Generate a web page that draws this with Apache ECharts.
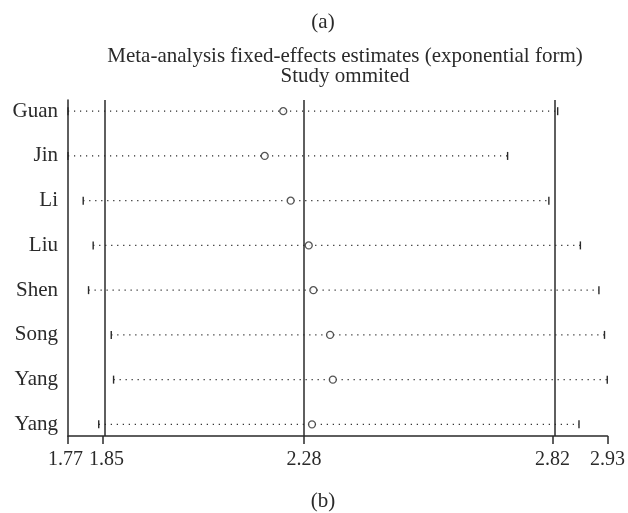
<!DOCTYPE html>
<html>
<head>
<meta charset="utf-8">
<script src="https://cdn.jsdelivr.net/npm/echarts@6/dist/echarts.min.js"></script>
<style>
html,body{margin:0;padding:0;background:#fff;}
#chart{width:628px;height:513px;}
</style>
</head>
<body>
<div id="chart"></div>
<script>
const studies = ['Guan', 'Jin', 'Li', 'Liu', 'Shen', 'Song', 'Yang', 'Yang'];
const estimate = [2.235, 2.195, 2.251, 2.290, 2.300, 2.336, 2.342, 2.297];
const lowerCI = [1.7707, 1.7707, 1.8035, 1.825, 1.815, 1.864, 1.869, 1.837];
const upperCI = [2.827, 2.719, 2.808, 2.876, 2.916, 2.928, 2.934, 2.873];
const axisTicks = [1.7707, 1.846, 2.2797, 2.816, 2.9345];
const tickLabels = ['1.77', '1.85', '2.28', '2.82', '2.93'];
const refLines = [1.846, 2.2797, 2.816];
const rowPos = [1, 2, 3, 4, 5, 6, 7, 8];

const FONT = 'Liberation Serif';
const INK = '#2a2a2a';

const chart = echarts.init(document.getElementById('chart'), null, {renderer: 'canvas'});

const ciData = studies.map((s, i) => [lowerCI[i], upperCI[i], rowPos[i]]);
const estData = studies.map((s, i) => [estimate[i], rowPos[i]]);

function tickIndex(v) {
  let best = 0;
  axisTicks.forEach((t, i) => { if (Math.abs(t - v) < Math.abs(axisTicks[best] - v)) best = i; });
  return best;
}
function tickLabel(v) {
  const i = tickIndex(v);
  if (i === 0) return '{lo|' + tickLabels[i] + '}';
  if (i === 1) return '{hi|' + tickLabels[i] + '}';
  return '{n|' + tickLabels[i] + '}';
}
const lblFont = {fontFamily: FONT, fontSize: 20, color: INK};

chart.setOption({
  animation: false,
  backgroundColor: '#fff',
  title: [
    {text: '(a)', left: 318, top: 7, textAlign: 'center',
     textStyle: {fontFamily: FONT, fontSize: 21, fontWeight: 'normal', color: INK}},
    {text: 'Meta-analysis fixed-effects estimates (exponential form)\nStudy ommited',
     left: 340, top: 41, textAlign: 'center',
     textStyle: {fontFamily: FONT, fontSize: 21, fontWeight: 'normal', color: INK, lineHeight: 20}},
    {text: '(b)', left: 318, top: 486, textAlign: 'center',
     textStyle: {fontFamily: FONT, fontSize: 21, fontWeight: 'normal', color: INK}}
  ],
  grid: {left: 68, right: 16.5, top: 100, bottom: 77, containLabel: false},
  xAxis: {
    type: 'value',
    min: axisTicks[0],
    max: axisTicks[axisTicks.length - 1],
    axisLine: {show: true, lineStyle: {color: INK, width: 1.5}},
    axisTick: {show: true, customValues: axisTicks, length: 8, lineStyle: {color: INK, width: 1.5}},
    axisLabel: {customValues: axisTicks, formatter: tickLabel, fontFamily: FONT, fontSize: 20,
                color: INK, margin: 14, hideOverlap: false, showMinLabel: true, showMaxLabel: true,
                rich: {
                  lo: Object.assign({padding: [0, 5, 0, 0]}, lblFont),
                  hi: Object.assign({padding: [0, 0, 0, 7]}, lblFont),
                  n: Object.assign({}, lblFont)
                }},
    splitLine: {show: false}
  },
  yAxis: {
    type: 'value',
    inverse: true,
    min: 0.75,
    max: 8.26,
    axisLine: {show: true, lineStyle: {color: INK, width: 1.5}},
    axisTick: {show: false},
    axisLabel: {customValues: rowPos, formatter: v => studies[Math.round(v) - 1],
                fontFamily: FONT, fontSize: 21, color: INK, margin: 10},
    splitLine: {show: false}
  },
  series: [
    {
      type: 'custom',
      data: ciData,
      renderItem: function (params, api) {
        const y = api.value(2);
        const p1 = api.coord([api.value(0), y]);
        const p2 = api.coord([api.value(1), y]);
        const h = 4;
        return {
          type: 'group',
          children: [
            {type: 'line', shape: {x1: p1[0], y1: p1[1], x2: p2[0], y2: p2[1]},
             style: {stroke: INK, lineWidth: 1.2, lineDash: [1.2, 4.8]}},
            {type: 'line', shape: {x1: p1[0], y1: p1[1] - h, x2: p1[0], y2: p1[1] + h},
             style: {stroke: INK, lineWidth: 1.4}},
            {type: 'line', shape: {x1: p2[0], y1: p2[1] - h, x2: p2[0], y2: p2[1] + h},
             style: {stroke: INK, lineWidth: 1.4}}
          ]
        };
      },
      z: 2
    },
    {
      type: 'scatter',
      data: estData,
      symbol: 'circle',
      symbolSize: 7,
      itemStyle: {color: '#fff', borderColor: INK, borderWidth: 1.3},
      z: 4,
      markLine: {
        silent: true,
        symbol: ['none', 'none'],
        label: {show: false},
        lineStyle: {color: INK, width: 1.5, type: 'solid'},
        data: refLines.map(v => ({xAxis: v}))
      }
    }
  ]
});
</script>
</body>
</html>
